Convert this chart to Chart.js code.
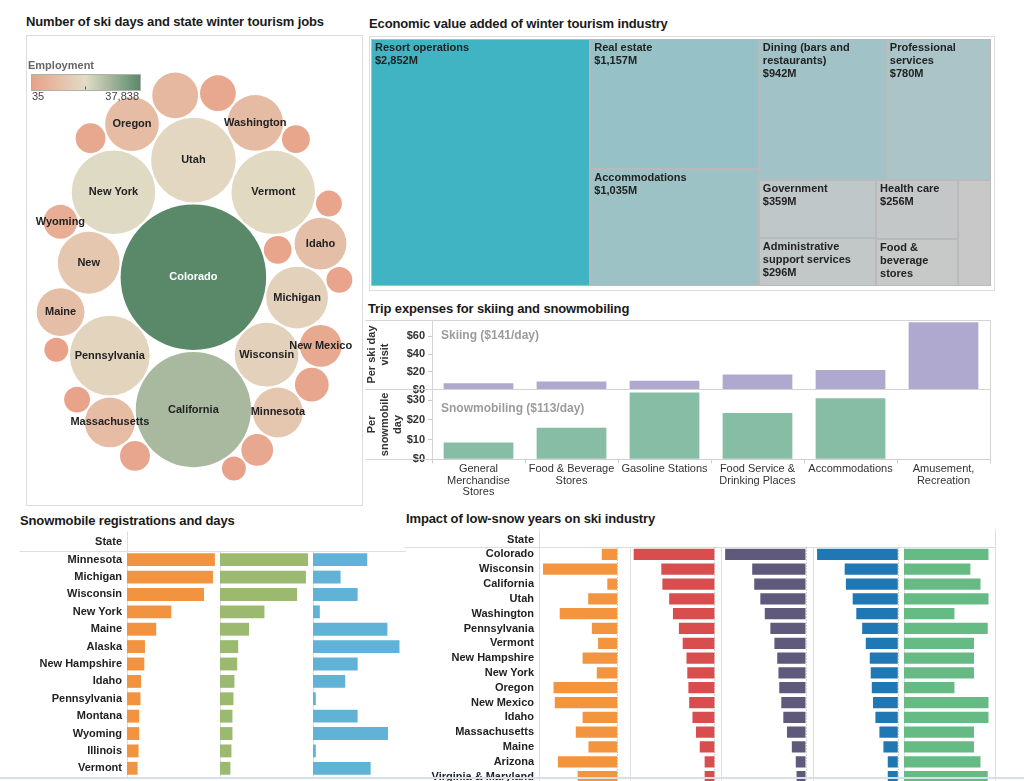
<!DOCTYPE html>
<html>
<head>
<meta charset="utf-8">
<title>Winter tourism dashboard</title>
<script src="https://cdn.jsdelivr.net/npm/chart.js@4.4.1/dist/chart.umd.min.js"></script>
<style>
  html, body { margin: 0; padding: 0; background: #fff; }
  #page { position: relative; width: 1024px; height: 781px; overflow: hidden; font-family: Arial, "Liberation Sans", sans-serif; }
  .title { position: absolute; font-weight: bold; font-size: 13px; letter-spacing: -0.13px; color: #1a1a1a; white-space: nowrap; line-height: 16px; }
  .panel { position: absolute; }
  .frame { position: absolute; border: 1px solid #dcdcdc; box-sizing: border-box; }
  canvas { position: absolute; left: 0; top: 0; }
</style>
</head>
<body>
<div id="page">
  <div class="title" style="left:26px;top:14px">Number of ski days and state winter tourism jobs</div>
  <div class="frame" style="left:26px;top:35px;width:337px;height:471px"></div>
  <div class="panel" style="left:27px;top:36px;width:335px;height:469px"><canvas id="bubbleChart" width="335" height="469"></canvas></div>

  <div class="title" style="left:369px;top:16px">Economic value added of winter tourism industry</div>
  <div class="frame" style="left:369px;top:36px;width:626px;height:255px"></div>
  <div class="panel" style="left:369px;top:36px;width:626px;height:255px"><canvas id="treemapChart" width="626" height="255"></canvas></div>

  <div class="title" style="left:368px;top:301px">Trip expenses for skiing and snowmobiling</div>
  <div class="panel" style="left:365px;top:310px;width:632px;height:192px"><canvas id="tripChart" width="632" height="192"></canvas></div>

  <div class="title" style="left:20px;top:513px">Snowmobile registrations and days</div>
  <div class="panel" style="left:18px;top:529px;width:388px;height:252px"><canvas id="snowChart" width="388" height="252"></canvas></div>

  <div class="title" style="left:406px;top:511px">Impact of low-snow years on ski industry</div>
  <div class="panel" style="left:403px;top:527px;width:600px;height:262px"><canvas id="lowSnowChart" width="600" height="262"></canvas></div>
  <div style="position:absolute;left:0;top:777px;width:1024px;height:2px;background:#d6e0ea"></div>
</div>

<script>
// ---------------- data ----------------

// packed bubbles: ski days (millions) set the size, winter tourism jobs set the colour
const bubbleLabels = ['Colorado', 'California', 'Utah', 'Vermont', 'New York', 'Pennsylvania',
  'Wisconsin', 'Michigan', 'New', 'Washington', 'Oregon', 'Idaho', 'Minnesota', 'Massachusetts',
  'Maine', '', 'New Mexico', '', 'Wyoming', '', '', '', '', '', '', '', '', '', '', ''];
const skiDays = [12.6, 7.9, 4.26, 4.16, 4.16, 3.78, 2.42, 2.27, 2.27, 1.85, 1.72, 1.6, 1.48, 1.48,
  1.36, 1.25, 1.04, 0.76, 0.68, 0.68, 0.6, 0.53, 0.53, 0.46, 0.46, 0.4, 0.4, 0.4, 0.34, 0.34];
const winterJobs = [37838, 27000, 17500, 18000, 19500, 16500, 15500, 15500, 12000, 8500, 9000, 9500,
  12000, 9000, 9500, 7500, 3000, 2500, 4000, 2000, 2500, 2000, 2500, 1500, 1800, 1500, 1200, 1000, 800, 600];
const employmentRange = [35, 37838];

// treemap of economic value added ($M)
const treemapSectors = ['Resort operations', 'Real estate', 'Accommodations', 'Dining (bars and restaurants)',
  'Professional services', 'Government', 'Administrative support services', 'Health care',
  'Food & beverage stores', 'Other'];
const treemapValues = [2852, 1157, 1035, 942, 780, 359, 296, 256, 201, 185];

// trip expenses ($ per day)
const tripCategories = [['General', 'Merchandise', 'Stores'], ['Food & Beverage', 'Stores'], ['Gasoline Stations'],
  ['Food Service &', 'Drinking Places'], ['Accommodations'], ['Amusement,', 'Recreation']];
const skiSpend = [7, 9, 10, 17, 22, 76];
const snowSpend = [8.5, 16, 34, 23.5, 31, null];
const tripSeriesNames = ['Skiing ($141/day)', 'Snowmobiling ($113/day)'];

// snowmobile registrations and days
const snowStates = ['Minnesota', 'Michigan', 'Wisconsin', 'New York', 'Maine', 'Alaska', 'New Hampshire',
  'Idaho', 'Pennsylvania', 'Montana', 'Wyoming', 'Illinois', 'Vermont'];
const snowRegistrations = [274, 268, 240, 138, 91, 56, 54, 44, 42, 38, 38, 36, 33];       // thousands
const snowDays = [9.46, 9.24, 8.29, 4.78, 3.12, 1.96, 1.85, 1.55, 1.45, 1.34, 1.34, 1.23, 1.12]; // millions
const snowDaysPerSled = [17.5, 8.9, 14.4, 2.2, 24.0, 27.9, 14.4, 10.4, 0.9, 14.4, 24.2, 0.9, 18.6];

// impact of low-snow years
const lowSnowStates = ['Colorado', 'Wisconsin', 'California', 'Utah', 'Washington', 'Pennsylvania', 'Vermont',
  'New Hampshire', 'New York', 'Oregon', 'New Mexico', 'Idaho', 'Massachusetts', 'Maine', 'Arizona',
  'Virginia & Maryland'];
const visitChangePct = [-5.0, -24.0, -3.2, -9.4, -18.6, -8.2, -6.2, -11.2, -6.6, -20.6, -20.2, -11.2, -13.4, -9.3, -19.2, -12.8];
const revenueLossM = [-298, -196, -192, -167, -153, -131, -117, -103, -100, -96, -93, -81, -68, -54, -36, -36];
const jobsLost = [-3965, -2630, -2530, -2230, -2010, -1735, -1535, -1395, -1335, -1295, -1195, -1095, -915, -675, -480, -440];
const wagesLostM = [-120.8, -79.5, -77.7, -67.5, -62.1, -53.3, -47.9, -41.9, -40.5, -38.9, -37.1, -33.5, -27.5, -21.5, -15, -15];
const lowSnowYears = [11.7, 9.2, 10.6, 11.7, 7.0, 11.6, 9.7, 9.7, 9.7, 7.0, 11.7, 11.7, 9.7, 9.7, 10.6, 11.6];

// ---------------- helpers ----------------
const FONT = 'Arial, "Liberation Sans", sans-serif';
Chart.defaults.font.family = FONT;
Chart.defaults.animation = false;
Chart.defaults.responsive = false;
Chart.defaults.devicePixelRatio = 1;
Chart.defaults.plugins.legend.display = false;
Chart.defaults.plugins.tooltip.enabled = false;

function drawText(ctx, text, x, y, font, color, align) {
  ctx.save();
  ctx.font = font;
  ctx.fillStyle = color;
  ctx.textAlign = align || 'left';
  ctx.textBaseline = 'middle';
  ctx.fillText(text, x, y);
  ctx.restore();
}

function line(ctx, x1, y1, x2, y2, color, dash) {
  ctx.save();
  ctx.strokeStyle = color;
  ctx.lineWidth = 1;
  if (dash) ctx.setLineDash(dash);
  ctx.beginPath();
  ctx.moveTo(Math.round(x1) + 0.5, Math.round(y1) + 0.5);
  ctx.lineTo(Math.round(x2) + 0.5, Math.round(y2) + 0.5);
  ctx.stroke();
  ctx.restore();
}

function lerpColor(stops, t) {
  for (let i = 1; i < stops.length; i++) {
    if (t <= stops[i][0]) {
      const a = stops[i - 1], b = stops[i];
      const f = (t - a[0]) / (b[0] - a[0]);
      const c = a[1].map((v, k) => Math.round(v + (b[1][k] - v) * f));
      return 'rgb(' + c.join(',') + ')';
    }
  }
  return 'rgb(' + stops[stops.length - 1][1].join(',') + ')';
}

// ---------------- bubble chart ----------------
const EMPLOY_STOPS = [[0, [233, 160, 135]], [0.5, [226, 220, 198]], [1, [90, 137, 106]]];
const employmentColor = v => lerpColor(EMPLOY_STOPS,
  Math.min(1, Math.max(0, (v - employmentRange[0]) / (employmentRange[1] - employmentRange[0]))));

// greedy circle packing: each circle goes to the free spot nearest the middle
function packBubbles(radii, stretch, gap) {
  const order = radii.map((r, i) => i).sort((a, b) => radii[b] - radii[a]);
  const pos = [];
  const placed = [];
  const score = (x, y) => Math.hypot(x, y / stretch);
  const fits = (x, y, r) => placed.every(j => Math.hypot(x - pos[j].x, y - pos[j].y) >= radii[j] + r + gap - 0.01);
  order.forEach(i => {
    const r = radii[i];
    if (!placed.length) { pos[i] = {x: 0, y: 0}; placed.push(i); return; }
    let best = null, bestScore = Infinity;
    const consider = (x, y) => {
      const s = score(x, y);
      if (s < bestScore && fits(x, y, r)) { bestScore = s; best = {x, y}; }
    };
    placed.forEach(j => {
      const d = radii[j] + r + gap;
      for (let a = 0; a < 360; a += 3) {
        consider(pos[j].x + d * Math.cos(a * Math.PI / 180), pos[j].y + d * Math.sin(a * Math.PI / 180));
      }
    });
    for (let p = 0; p < placed.length; p++) {
      for (let q = p + 1; q < placed.length; q++) {
        const A = pos[placed[p]], B = pos[placed[q]];
        const ra = radii[placed[p]] + r + gap, rb = radii[placed[q]] + r + gap;
        const dx = B.x - A.x, dy = B.y - A.y, d = Math.hypot(dx, dy);
        if (d === 0 || d > ra + rb || d < Math.abs(ra - rb)) continue;
        const l = (ra * ra - rb * rb + d * d) / (2 * d);
        const h = Math.sqrt(Math.max(0, ra * ra - l * l));
        const mx = A.x + l * dx / d, my = A.y + l * dy / d;
        consider(mx - h * dy / d, my + h * dx / d);
        consider(mx + h * dy / d, my - h * dx / d);
      }
    }
    pos[i] = best;
    placed.push(i);
  });
  return pos;
}

(function bubbleChart() {
  const W = 335, H = 469;
  const pxPerRoot = 20.5;
  const radii = skiDays.map(d => Math.sqrt(d) * pxPerRoot);
  const packed = packBubbles(radii, 1.36, 2);
  let minX = Infinity, maxX = -Infinity, minY = Infinity, maxY = -Infinity;
  packed.forEach((p, i) => {
    minX = Math.min(minX, p.x - radii[i]); maxX = Math.max(maxX, p.x + radii[i]);
    minY = Math.min(minY, p.y - radii[i]); maxY = Math.max(maxY, p.y + radii[i]);
  });
  const fit = Math.min(1, (W - 2) / (maxX - minX), (H - 30) / (maxY - minY));
  const cx = (minX + maxX) / 2, cy = (minY + maxY) / 2;
  const points = packed.map((p, i) => ({
    x: W / 2 + (p.x - cx) * fit,
    y: H / 2 + 6 + (p.y - cy) * fit,
    r: radii[i] * fit
  }));

  const labelPlugin = {
    id: 'bubbleLabels',
    afterDatasetsDraw(chart) {
      const ctx = chart.ctx;
      ctx.save();
      ctx.font = 'bold 11px ' + FONT;
      chart.getDatasetMeta(0).data.forEach((el, i) => {
        if (!bubbleLabels[i]) return;
        const half = ctx.measureText(bubbleLabels[i]).width / 2;
        const x = Math.min(Math.max(el.x, half + 2), W - half - 2);
        const dark = winterJobs[i] > 30000;
        drawText(ctx, bubbleLabels[i], x, el.y, 'bold 11px ' + FONT, dark ? '#ffffff' : '#222222', 'center');
      });
      ctx.restore();
    },
    afterDraw(chart) {
      const ctx = chart.ctx;
      drawText(ctx, 'Employment', 1, 30, 'bold 11px ' + FONT, '#666666', 'left');
      const g = ctx.createLinearGradient(4, 0, 113, 0);
      EMPLOY_STOPS.forEach(s => g.addColorStop(s[0], 'rgb(' + s[1].join(',') + ')'));
      ctx.fillStyle = g;
      ctx.fillRect(4, 38, 109, 16);
      ctx.strokeStyle = '#b0b0b0';
      ctx.strokeRect(4.5, 38.5, 109, 16);
      line(ctx, 58, 50, 58, 53, '#555555');
      drawText(ctx, employmentRange[0].toLocaleString('en-US'), 5, 61, '11px ' + FONT, '#444444', 'left');
      drawText(ctx, employmentRange[1].toLocaleString('en-US'), 112, 61, '11px ' + FONT, '#444444', 'right');
    }
  };

  new Chart(document.getElementById('bubbleChart'), {
    type: 'bubble',
    data: {
      labels: bubbleLabels,
      datasets: [{
        data: points,
        backgroundColor: winterJobs.map(employmentColor),
        borderWidth: 0,
        hoverRadius: 0,
        clip: false
      }]
    },
    options: {
      layout: {padding: 0, autoPadding: false},
      scales: {
        x: {type: 'linear', min: 0, max: W, display: false},
        y: {type: 'linear', min: 0, max: H, reverse: true, display: false}
      }
    },
    plugins: [labelPlugin]
  });
})();

// ---------------- treemap ----------------
// squarified layout, a little looser than the textbook rule
function squarify(values, w, h, tol) {
  const total = values.reduce((a, b) => a + b, 0);
  const scale = w * h / total;
  const items = values.map((v, i) => ({i, a: v * scale})).sort((a, b) => b.a - a.a);
  const worst = (row, side) => {
    const s = row.reduce((a, b) => a + b.a, 0);
    const thick = s / side;
    return Math.max(...row.map(r => { const len = r.a / thick; return Math.max(len / thick, thick / len); }));
  };
  const rects = [];
  let x = 0, y = 0, rw = w, rh = h, k = 0;
  while (k < items.length) {
    const side = Math.min(rw, rh);
    let row = [items[k++]];
    let cur = worst(row, side);
    while (k < items.length) {
      const next = row.concat(items[k]);
      const nw = worst(next, side);
      if (nw <= cur * tol) { row = next; cur = nw; k++; } else break;
    }
    const s = row.reduce((a, b) => a + b.a, 0);
    if (rw >= rh) {
      const sw = s / rh; let yy = y;
      row.forEach(r => { const hh = r.a / sw; rects[r.i] = {x, y: yy, w: sw, h: hh}; yy += hh; });
      x += sw; rw -= sw;
    } else {
      const sh = s / rw; let xx = x;
      row.forEach(r => { const ww = r.a / sh; rects[r.i] = {x: xx, y, w: ww, h: sh}; xx += ww; });
      y += sh; rh -= sh;
    }
  }
  return rects;
}

function wrapWords(ctx, text, maxW) {
  const words = text.split(' ');
  const lines = [];
  let cur = '';
  for (const w of words) {
    if (ctx.measureText(w).width > maxW) return null;
    const t = cur ? cur + ' ' + w : w;
    if (ctx.measureText(t).width <= maxW) cur = t; else { lines.push(cur); cur = w; }
  }
  if (cur) lines.push(cur);
  return lines;
}

(function treemapChart() {
  const vMin = Math.min(...treemapValues), vMax = Math.max(...treemapValues);
  const TEAL_STOPS = [[0, [200, 200, 200]], [1, [64, 180, 194]]];

  const cellPlugin = {
    id: 'treemapCells',
    afterDatasetsDraw(chart) {
      const {ctx, chartArea: ca, scales} = chart;
      const aw = ca.right - ca.left, ah = ca.bottom - ca.top;
      const rects = squarify(treemapValues, aw, ah, 1.6);
      ctx.save();
      ctx.font = 'bold 11px ' + FONT;
      rects.forEach((r, i) => {
        const x0 = scales.x.getPixelForValue(r.x / aw), x1 = scales.x.getPixelForValue((r.x + r.w) / aw);
        const y0 = scales.y.getPixelForValue(r.y / ah), y1 = scales.y.getPixelForValue((r.y + r.h) / ah);
        const v = treemapValues[i];
        ctx.fillStyle = lerpColor(TEAL_STOPS, (v - vMin) / (vMax - vMin));
        ctx.fillRect(x0, y0, x1 - x0, y1 - y0);
        ctx.strokeStyle = '#b9b9b9';
        ctx.lineWidth = 1;
        ctx.strokeRect(Math.round(x0) + 0.5, Math.round(y0) + 0.5, Math.round(x1 - x0) - 1, Math.round(y1 - y0) - 1);
        const lines = wrapWords(ctx, treemapSectors[i], x1 - x0 - 7);
        if (!lines) return;
        lines.push('$' + v.toLocaleString('en-US') + 'M');
        const maxLines = Math.floor((y1 - y0 - 3) / 13);
        lines.slice(0, maxLines).forEach((t, n) => {
          drawText(ctx, t, x0 + 4, y0 + 9 + n * 13, 'bold 11px ' + FONT, '#222222', 'left');
        });
      });
      ctx.restore();
    }
  };

  new Chart(document.getElementById('treemapChart'), {
    type: 'scatter',
    data: {datasets: [{data: []}]},
    options: {
      layout: {padding: {left: 2, top: 3, right: 4, bottom: 5}},
      scales: {
        x: {type: 'linear', min: 0, max: 1, display: false},
        y: {type: 'linear', min: 0, max: 1, reverse: true, display: false}
      }
    },
    plugins: [cellPlugin]
  });
})();

// ---------------- trip expenses ----------------
(function tripChart() {
  const axisFont = {size: 11, weight: 'bold'};
  const panelPlugin = {
    id: 'tripPanels',
    afterDraw(chart) {
      const {ctx, chartArea: ca, scales} = chart;
      const c = '#d4d4d4';
      [scales.ySki, scales.ySnow].forEach(s => {
        line(ctx, 0, s.top, ca.right, s.top, c);
        line(ctx, ca.right, s.top, ca.right, s.bottom, c);
      });
      line(ctx, 0, scales.ySnow.bottom, ca.left, scales.ySnow.bottom, c);
      line(ctx, ca.left, ca.top, ca.left, ca.bottom, c);
      drawText(ctx, tripSeriesNames[0], ca.left + 9, scales.ySki.top + 16, 'bold 12px ' + FONT, '#9b9b9b', 'left');
      drawText(ctx, tripSeriesNames[1], ca.left + 9, scales.ySnow.top + 19, 'bold 12px ' + FONT, '#9b9b9b', 'left');
    }
  };
  const yCommon = {
    position: 'left',
    stack: 'trip',
    stackWeight: 1,
    grid: {display: true, drawOnChartArea: false, drawTicks: true, tickLength: 4, color: '#c8c8c8'},
    border: {display: false},
    afterFit: s => { s.width = 67; }
  };
  const tickCommon = {includeBounds: false, autoSkip: false, callback: v => '$' + v, font: axisFont, color: '#333333', padding: 3};

  new Chart(document.getElementById('tripChart'), {
    type: 'bar',
    data: {
      labels: tripCategories,
      datasets: [
        {data: snowSpend, yAxisID: 'ySnow', backgroundColor: '#88bda5', grouped: false, barPercentage: 0.75, categoryPercentage: 1},
        {data: skiSpend, yAxisID: 'ySki', backgroundColor: '#afa9cf', grouped: false, barPercentage: 0.75, categoryPercentage: 1}
      ]
    },
    options: {
      layout: {padding: {top: 0, right: 7, left: 0, bottom: 4}},
      scales: {
        x: {
          grid: {offset: true, drawOnChartArea: false, tickLength: 4, color: '#cfcfcf'},
          border: {color: '#cfcfcf'},
          ticks: {font: {size: 11, lineHeight: 1.05}, color: '#333333', maxRotation: 0, autoSkip: false, padding: 0}
        },
        ySnow: Object.assign({}, yCommon, {
          min: 0, max: 35.5,
          ticks: Object.assign({stepSize: 10}, tickCommon),
          title: {display: true, text: ['Per', 'snowmobile', 'day'], font: axisFont, color: '#333333', padding: 0}
        }),
        ySki: Object.assign({}, yCommon, {
          min: 0, max: 79,
          ticks: Object.assign({stepSize: 20}, tickCommon),
          title: {display: true, text: ['Per ski day', 'visit'], font: axisFont, color: '#333333', padding: 0}
        })
      }
    },
    plugins: [panelPlugin]
  });
})();

// ---------------- side-by-side horizontal bar panels ----------------
function panelBars(canvasId, states, series, opts) {
  const scales = {
    y: {
      type: 'category',
      grid: {display: false, drawTicks: false},
      border: {display: false},
      ticks: {font: {size: 11, weight: 'bold'}, color: '#222222', padding: 5, autoSkip: false},
      afterFit: s => { s.width = opts.labelWidth; s.paddingTop = 0; s.paddingBottom = 0; }
    }
  };
  series.forEach((s, i) => {
    scales['x' + i] = {
      type: 'linear', position: 'bottom', stack: 'cols', stackWeight: 1,
      min: s.range[0], max: s.range[1],
      grid: {display: false, drawTicks: false},
      border: {display: false},
      ticks: {display: false},
      afterFit: sc => { sc.height = 0; }
    };
  });

  const framePlugin = {
    id: 'panelFrames',
    beforeDatasetsDraw(chart) {
      const {ctx, chartArea: ca} = chart;
      const c = '#dedede';
      line(ctx, 1, ca.top, ca.right, ca.top, c);
      line(ctx, ca.left, 2, ca.left, ca.bottom, c);
      if (opts.rightEdge) line(ctx, ca.right, 2, ca.right, ca.bottom, c);
      series.forEach((s, i) => {
        const sc = chart.scales['x' + i];
        if (i > 0) line(ctx, sc.left, ca.top, sc.left, ca.bottom, c);
        if (s.range[0] < 0) line(ctx, sc.getPixelForValue(0), ca.top, sc.getPixelForValue(0), ca.bottom, '#a8a8a8', [1, 2]);
      });
      drawText(ctx, 'State', ca.left - 5, ca.top - opts.headerOffset, 'bold 11px ' + FONT, '#222222', 'right');
    }
  };

  return new Chart(document.getElementById(canvasId), {
    type: 'bar',
    data: {
      labels: states,
      datasets: series.map((s, i) => ({
        data: s.values, xAxisID: 'x' + i, backgroundColor: s.color,
        grouped: false, barPercentage: opts.barPercentage, categoryPercentage: 1
      }))
    },
    options: {
      indexAxis: 'y',
      layout: {padding: opts.padding},
      scales: scales
    },
    plugins: [framePlugin]
  });
}

panelBars('snowChart', snowStates, [
  {values: snowRegistrations, range: [0, 290], color: '#f1933f'},
  {values: snowDays, range: [0, 10], color: '#9bba6f'},
  {values: snowDaysPerSled, range: [0, 30], color: '#60b3d6'}
], {
  headerOffset: 9,
  labelWidth: 109,
  barPercentage: 0.74,
  padding: {top: 22, right: 0, bottom: 4, left: 0}
});

panelBars('lowSnowChart', lowSnowStates, [
  {values: visitChangePct, range: [-25.3, 4.2], color: '#f3953f'},
  {values: revenueLossM, range: [-310.8, 25.9], color: '#d84e4e'},
  {values: jobsLost, range: [-4150, 350], color: '#5f5a7c'},
  {values: wagesLostM, range: [-127.5, 9], color: '#1f77b4'},
  {values: lowSnowYears, range: [0, 12.6], color: '#66bb84'}
], {
  headerOffset: 7,
  labelWidth: 136,
  barPercentage: 0.76,
  rightEdge: true,
  padding: {top: 20, right: 8, bottom: 5, left: 0}
});
</script>
</body>
</html>
